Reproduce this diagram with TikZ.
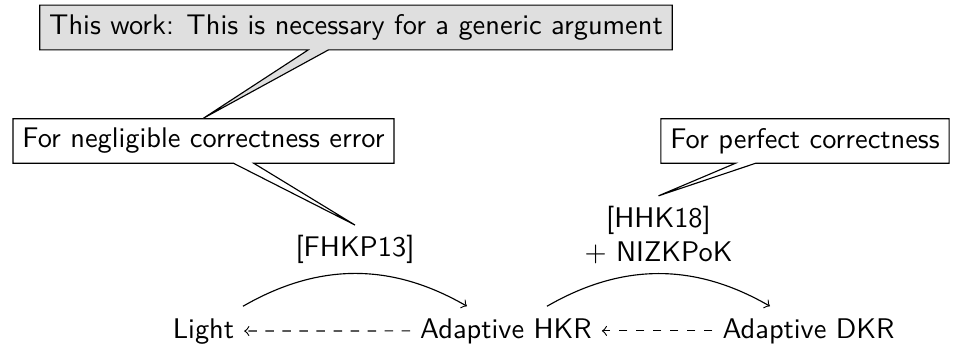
\documentclass[tikz,border=0pt]{standalone}
\usepackage{fontspec}
\usetikzlibrary{shapes.callouts}
\tikzset{
  term/.style={anchor=base, font=\sffamily},
  note/.style={rectangle callout, draw, font=\sffamily},
  hint/.style={note, fill=gray!25},
  impl/.style={->},
  sep/.style={dashed, ->},
}
\begin{document}
\begin{tikzpicture}[x=0.3521pt, y=-0.3521pt]
\useasboundingbox (0,0) rectangle (954,344);
% notions
\node[term] (light) at (203.5,338) {Light};
\node[term] (hkr) at (506,338) {Adaptive HKR};
\node[term] (dkr) at (808.5,338) {Adaptive DKR};
% separations
\draw[sep] (hkr.west) -- (light.east);
\draw[sep] (dkr.west) -- (hkr.east);
% implications with references
\draw[impl] ([shift={(39.5,-2)}]light.north) to[bend left=30]
  node[above, font=\sffamily] (fhkp) {[FHKP13]}
  ([shift={(-39,-2)}]hkr.north);
\draw[impl] ([shift={(41,-2)}]hkr.north) to[bend left=30]
  node[above, font=\sffamily, align=center] (hhk) {[HHK18]\\ $+$ NIZKPoK}
  ([shift={(-38.5,-2)}]dkr.north);
% remarks
\node[note, callout absolute pointer={(fhkp.north)}] (neg) at (203.5,141)
  {For negligible correctness error};
\node[note, callout absolute pointer={(hhk.north)}] (perf) at (805,141)
  {For perfect correctness};
\node[hint, callout absolute pointer={(neg.north)}] (work) at (356,27.5)
  {This work: This is necessary for a generic argument};
\end{tikzpicture}
\end{document}
